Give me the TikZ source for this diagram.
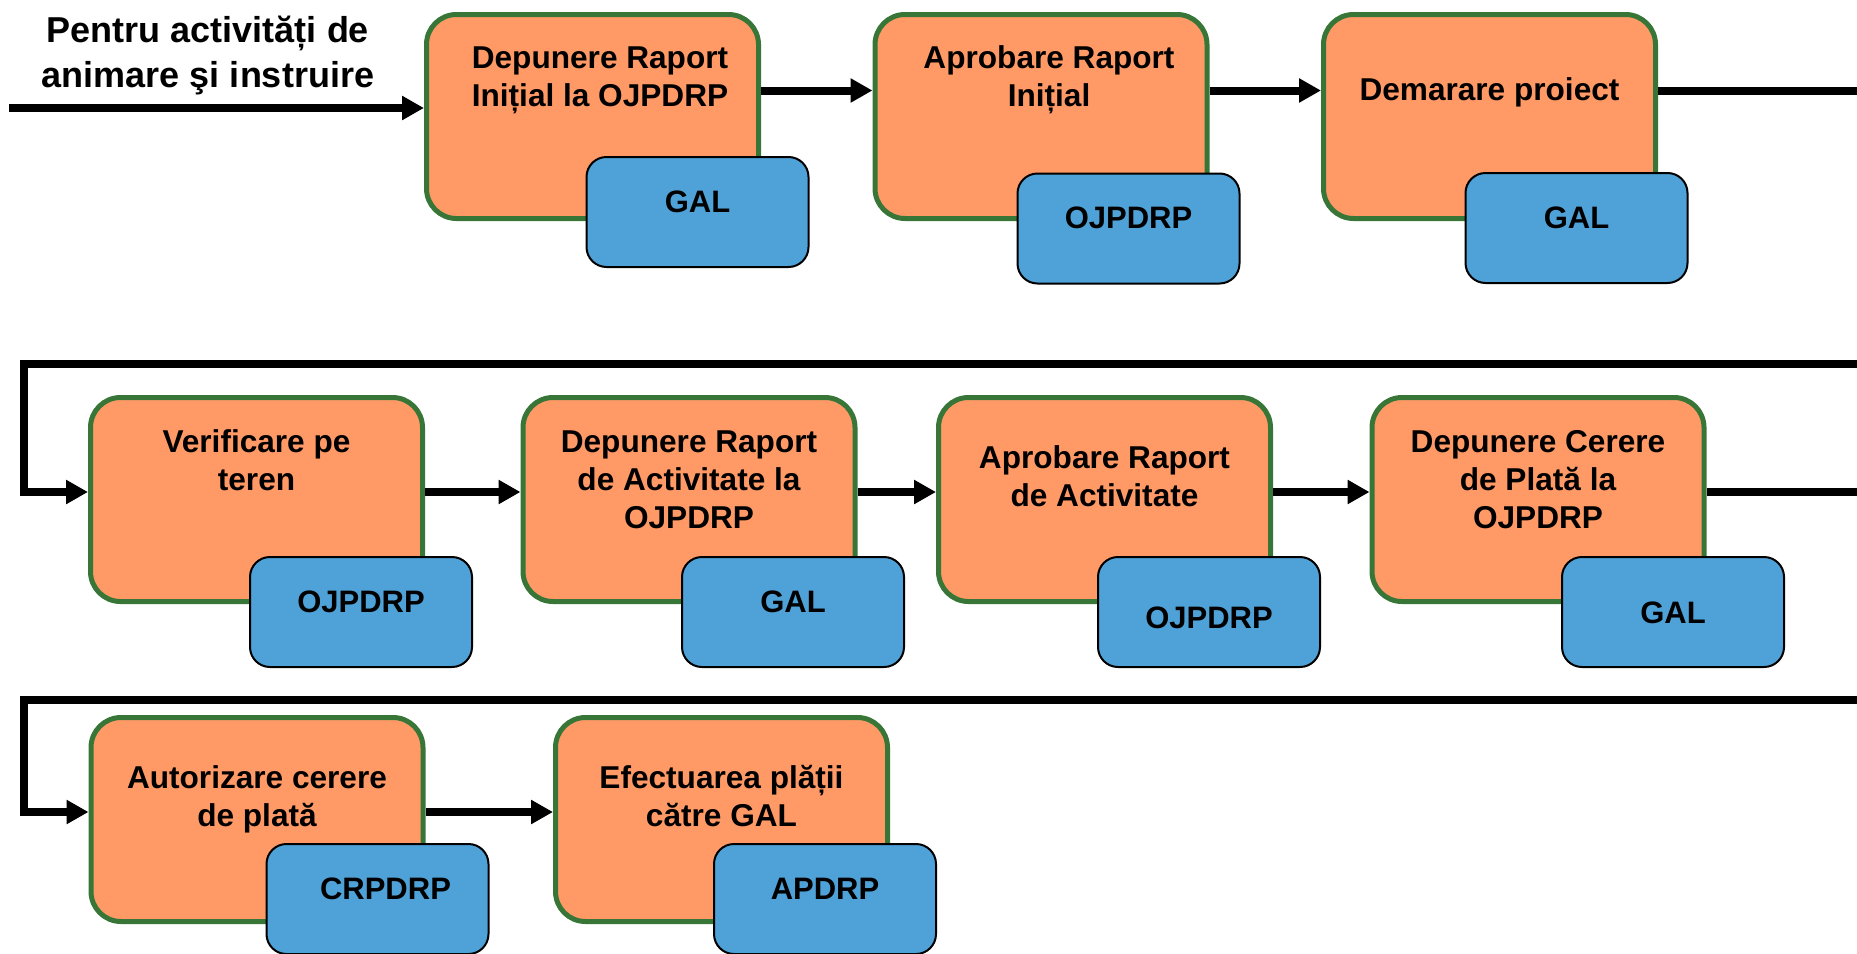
\documentclass[tikz,border=0pt]{standalone}
\usepackage{fontspec}
\setmainfont{Liberation Sans}
\usetikzlibrary{arrows.meta}
\definecolor{steporange}{RGB}{255,153,102}
\definecolor{stepgreen}{RGB}{56,118,56}
\definecolor{agentblue}{RGB}{79,162,216}
\begin{document}
\begin{tikzpicture}[x=0.5pt, y=-0.5pt,
    stepbox/.style={draw=stepgreen, line width=2.5pt, fill=steporange, rounded corners=15pt,
        minimum width=166pt, minimum height=102pt, inner sep=0pt},
    agentbox/.style={draw=black, line width=1pt, fill=agentblue, rounded corners=10pt,
        minimum width=111pt, minimum height=55pt, inner sep=0pt},
    steptext/.style={anchor=base, align=center, inner sep=0pt, font=\fontsize{15.8}{19}\selectfont\bfseries},
    agenttext/.style={anchor=base, inner sep=0pt, font=\fontsize{15.5}{19}\selectfont\bfseries},
    flow/.style={line width=4pt, -{Triangle[length=11pt, width=11.5pt]}}
]
    \useasboundingbox (0,0) rectangle (1857,953);

    % Title of the flow (base = last line)
    \node[steptext, font=\fontsize{18}{22.5}\selectfont\bfseries] (title) at (208,87)
        {Pentru activități de\\animare şi instruire};

    % First row of steps
    \node[stepbox] (b1) at (592.5,116.5) {};
    \node[steptext] (t1) at (600,106) {Depunere Raport\\Inițial la OJPDRP};
    \node[agentbox] (a1) at (697.5,212) {};
    \node[agenttext] (g1) at (a1) {GAL};

    \node[stepbox] (b2) at (1041,116.5) {};
    \node[steptext] (t2) at (1049,106) {Aprobare Raport\\Inițial};
    \node[agentbox] (a2) at (1128.5,228.5) {};
    \node[agenttext] (g2) at (a2) {OJPDRP};

    \node[stepbox] (b3) at (1489.5,116.5) {};
    \node[steptext] (t3) at (1489.5,100) {Demarare proiect};
    \node[agentbox] (a3) at (1576.5,228) {};
    \node[agenttext] (g3) at (a3) {GAL};

    % Second row of steps
    \node[stepbox] (b4) at (256.5,499.5) {};
    \node[steptext] (t4) at (256.5,490) {Verificare pe\\teren};
    \node[agentbox] (a4) at (361,612) {};
    \node[agenttext] (g4) at (a4) {OJPDRP};

    \node[stepbox] (b5) at (689,499.5) {};
    \node[steptext] (t5) at (689,528) {Depunere Raport\\de Activitate la\\OJPDRP};
    \node[agentbox] (a5) at (793,612) {};
    \node[agenttext] (g5) at (a5) {GAL};

    \node[stepbox] (b6) at (1104.5,499.5) {};
    \node[steptext] (t6) at (1104.5,506) {Aprobare Raport\\de Activitate};
    \node[agentbox] (a6) at (1209,612) {};
    \node[agenttext] (g6) at ([yshift=-8pt]a6) {OJPDRP};

    \node[stepbox] (b7) at (1538,499.5) {};
    \node[steptext] (t7) at (1538,528) {Depunere Cerere\\de Plată la\\OJPDRP};
    \node[agentbox] (a7) at (1673,612) {};
    \node[agenttext] (g7) at ([yshift=-5.5pt]a7) {GAL};

    % Third row of steps
    \node[stepbox] (b8) at (257,819.5) {};
    \node[steptext] (t8) at (257,826) {Autorizare cerere\\de plată};
    \node[agentbox] (a8) at (377.5,899) {};
    \node[agenttext] (g8) at ([xshift=4pt]a8) {CRPDRP};

    \node[stepbox] (b9) at (721.5,819.5) {};
    \node[steptext] (t9) at (721.5,826) {Efectuarea plății\\către GAL};
    \node[agentbox] (a9) at (825,899) {};
    \node[agenttext] (g9) at (a9) {APDRP};

    % Free ends of the connectors
    \coordinate (s0) at (9,108);
    \coordinate (e1) at (1870,90.5);
    \coordinate (e2) at (1870,364);
    \coordinate (c2) at (24,364);
    \coordinate (e3) at (1870,492);
    \coordinate (e4) at (1870,700);
    \coordinate (c3) at (24,700);

    % Connectors of the first row
    \draw[flow] (s0) -- ([yshift=4.25pt]b1.west);
    \draw[flow] ([yshift=13pt]b1.east) -- ([yshift=13pt]b2.west);
    \draw[flow] ([yshift=13pt]b2.east) -- ([yshift=13pt]b3.west);
    \draw[line width=4pt] ([yshift=13pt]b3.east) -- (e1);

    % Connectors of the second row
    \draw[flow] (e2) -- (c2) |- ([yshift=3.75pt]b4.west);
    \draw[flow] ([yshift=3.75pt]b4.east) -- ([yshift=3.75pt]b5.west);
    \draw[flow] ([yshift=3.75pt]b5.east) -- ([yshift=3.75pt]b6.west);
    \draw[flow] ([yshift=3.75pt]b6.east) -- ([yshift=3.75pt]b7.west);
    \draw[line width=4pt] ([yshift=3.75pt]b7.east) -- (e3);

    % Connectors of the third row
    \draw[flow] (e4) -- (c3) |- ([yshift=3.75pt]b8.west);
    \draw[flow] ([yshift=3.75pt]b8.east) -- ([yshift=3.75pt]b9.west);
\end{tikzpicture}
\end{document}
